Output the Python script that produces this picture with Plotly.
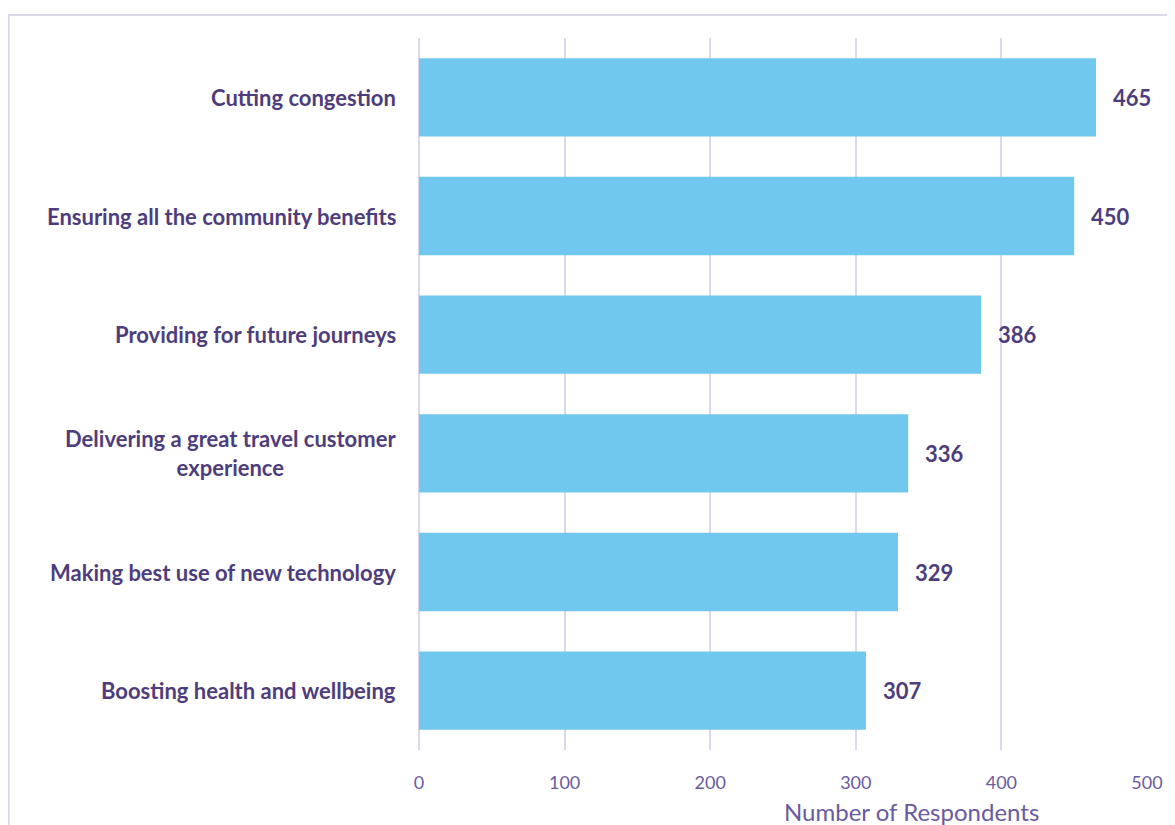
import plotly.graph_objects as go

CATEGORIES = [
    "Cutting congestion",
    "Ensuring all the community benefits",
    "Providing for future journeys",
    "Delivering a great travel customer<br>experience",
    "Making best use of new technology",
    "Boosting health and wellbeing",
]
RESPONDENTS = [465, 450, 386, 336, 329, 307]
X_TICKS = [0, 100, 200, 300, 400, 500]

BAR_COLOR = "#71c8ee"
TEXT_DARK = "#4e3d7c"
TEXT_LIGHT = "#6a5aa0"
GRID = "#dcd7ea"
FONT = "Lato"

# the page adds an 8px body margin, so the figure is drawn 8px in from the corner
OFF = 8

fig = go.Figure(go.Bar(
    x=RESPONDENTS, y=CATEGORIES, orientation="h",
    marker=dict(color=BAR_COLOR, line=dict(width=0)),
    hoverinfo="x+y",
))

# category labels (centered multi-line, right-aligned block)
for cat in CATEGORIES:
    fig.add_annotation(
        x=0, xref="paper", y=cat, yref="y", text=f"<b>{cat}</b>",
        xanchor="right", align="center", xshift=-21, showarrow=False,
        font=dict(family=FONT, size=22, color=TEXT_DARK),
    )

# value labels
for cat, v in zip(CATEGORIES, RESPONDENTS):
    fig.add_annotation(
        x=v, y=cat, text=f"<b>{v}</b>", xanchor="left", xshift=15,
        showarrow=False, font=dict(family=FONT, size=22, color=TEXT_DARK),
    )

fig.add_annotation(
    x=0.676, xref="paper", y=-0.087, yref="paper",
    xanchor="center", yanchor="middle",
    text="Number of Respondents", showarrow=False,
    font=dict(family=FONT, size=24, color=TEXT_LIGHT),
)

# outer chart border
fig.add_shape(
    type="rect", xref="paper", yref="paper",
    x0=-0.5636, x1=1.2, y0=-0.3, y1=1.0323,
    line=dict(color=GRID, width=2), fillcolor="rgba(0,0,0,0)",
)

fig.update_layout(
    width=1175 - OFF, height=825 - OFF,
    margin=dict(l=419 - OFF, r=25, t=38 - OFF, b=75),
    paper_bgcolor="white", plot_bgcolor="white",
    bargap=0.34, showlegend=False,
    font=dict(family=FONT, color=TEXT_LIGHT),
)
fig.update_xaxes(
    range=[0, 500], tickvals=X_TICKS, showgrid=True, gridcolor=GRID, gridwidth=1.5,
    zeroline=True, zerolinecolor=GRID, zerolinewidth=1.5,
    tickfont=dict(family=FONT, size=18, color=TEXT_LIGHT), ticks="", ticklabelstandoff=20,
)
fig.update_yaxes(
    autorange="reversed", showticklabels=False, showgrid=False, zeroline=False,
)

fig.write_html("out.html")
